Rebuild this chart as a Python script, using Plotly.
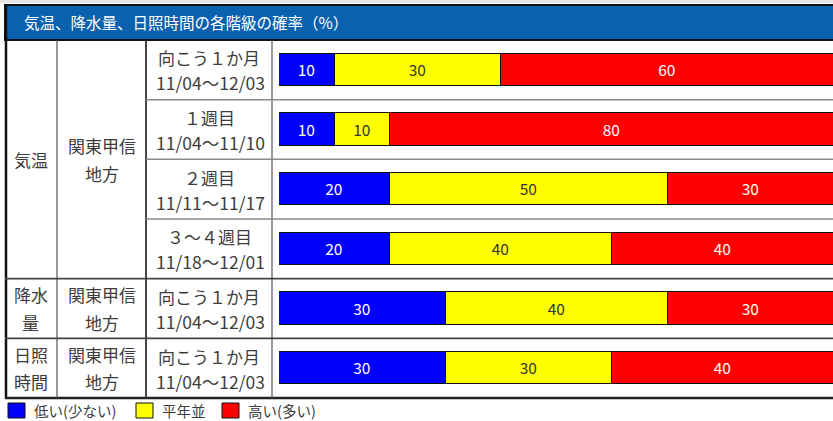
import plotly.graph_objects as go

W, H = 833, 421

# ---- data ----
title = "気温、降水量、日照時間の各階級の確率（%）"
elements = ["気温", "降水<br>量", "日照<br>時間"]
region = ["関東甲信", "地方"]
periods = ["向こう１か月", "１週目", "２週目", "３〜４週目", "向こう１か月", "向こう１か月"]
dates = ["11/04〜12/03", "11/04〜11/10", "11/11〜11/17", "11/18〜12/01", "11/04〜12/03", "11/04〜12/03"]
categories = ["低い(少ない)", "平年並", "高い(多い)"]
below = [10, 10, 20, 20, 30, 30]
normal = [30, 10, 50, 40, 40, 30]
above = [60, 80, 30, 40, 30, 40]

rows = list(range(len(periods)))
series = [below, normal, above]
fills = ["#0000FF", "#FFFF00", "#FF0000"]
text_colors = ["#FFFFFF", "#333333", "#FFFFFF"]

FONT = "Noto Sans CJK JP"
TXT = "#3c3c3c"


def px(x):
    return x / W


def py(y):
    return 1 - y / H


def label(text, x, y, yref="y", size=17, color=TXT, xanchor="center"):
    return dict(text=text, xref="paper", yref=yref, x=x, y=y,
                xanchor=xanchor, yanchor="middle", showarrow=False,
                font=dict(color=color, size=size, family=FONT))


fig = go.Figure()
for name, vals, fc, tc in zip(categories, series, fills, text_colors):
    fig.add_trace(go.Bar(
        y=rows, x=vals, name=name, orientation="h", width=0.54,
        marker=dict(color=fc, line=dict(color="#111111", width=1.5)),
        text=[str(v) for v in vals], textposition="inside",
        insidetextanchor="middle", textangle=0, constraintext="none",
        textfont=dict(color=tc, size=15.5, family=FONT),
        hoverinfo="skip", showlegend=False,
    ))

shapes = []
annotations = []

# header strip and frame
shapes.append(dict(type="rect", xref="paper", yref="paper", x0=0, x1=1, y0=py(3), y1=1,
                   fillcolor="#e6e6e6", line_width=0, layer="below"))
shapes.append(dict(type="rect", xref="paper", yref="paper", x0=px(5), x1=1.01, y0=py(40), y1=py(5),
                   fillcolor="#0A62AE", line=dict(color="#111111", width=2)))
annotations.append(label(title, px(22), py(22.5), yref="paper", size=15.5,
                         color="white", xanchor="left"))

# outer frame: left and bottom edges
shapes.append(dict(type="line", xref="paper", yref="paper", x0=px(6), x1=px(6), y0=py(4), y1=py(399),
                   line=dict(color="#111111", width=2.5)))
shapes.append(dict(type="line", xref="paper", yref="paper", x0=px(5), x1=1, y0=py(398), y1=py(398),
                   line=dict(color="#222222", width=2.5)))

# column separators
for xc, col, wd in [(57, "#555555", 1.2), (146, "#333333", 1.8), (272, "#555555", 1.2)]:
    shapes.append(dict(type="line", xref="paper", yref="paper", x0=px(xc), x1=px(xc),
                       y0=py(40), y1=py(398), line=dict(color=col, width=wd)))

# row separators (in axis units between rows)
for r in rows[:-1]:
    if r < 3:
        shapes.append(dict(type="line", xref="paper", yref="y", x0=px(146), x1=1, y0=r + 0.5, y1=r + 0.5,
                           line=dict(color="#8a8a8a", width=1.5)))
    else:
        shapes.append(dict(type="line", xref="paper", yref="y", x0=px(5), x1=1, y0=r + 0.5, y1=r + 0.5,
                           line=dict(color="#444444", width=1.8)))

# first column: element names
elem_rows = [1.5, 4, 5]
annotations.append(label(elements[0], px(31), elem_rows[0]))
for lab, yc in zip(elements[1:], elem_rows[1:]):
    top, bottom = lab.split("<br>")
    annotations.append(label(top, px(31), yc - 0.23))
    annotations.append(label(bottom, px(31), yc + 0.23))

# second column: region
for yc in elem_rows:
    annotations.append(label(region[0], px(101.5), yc - 0.23))
    annotations.append(label(region[1], px(101.5), yc + 0.23))

# third column: period and dates
for r, (p, d) in enumerate(zip(periods, dates)):
    annotations.append(label(p, px(209.5), r - 0.2))
    annotations.append(label(d, px(210), r + 0.22, size=17.5))

# key below the table
key_x = [8, 136, 222]
for name, fc, kx in zip(categories, fills, key_x):
    shapes.append(dict(type="rect", xref="paper", yref="paper", x0=px(kx), x1=px(kx + 17),
                       y0=py(418), y1=py(403), fillcolor=fc, line=dict(color="#111111", width=1)))
    annotations.append(label(name, px(kx + 24), py(410.5), yref="paper", size=14.5,
                             xanchor="left"))

fig.update_layout(
    width=W, height=H, margin=dict(l=0, r=0, t=0, b=0),
    paper_bgcolor="white", plot_bgcolor="rgba(0,0,0,0)",
    barmode="stack", bargap=0,
    xaxis=dict(domain=[px(279), 1], range=[0, 100 * (833 - 279) / 555], visible=False, fixedrange=True),
    yaxis=dict(domain=[py(398), py(40)], range=[5.5, -0.5], visible=False, fixedrange=True),
    shapes=shapes, annotations=annotations,
    font=dict(family=FONT),
)

fig.write_html("out.html")
